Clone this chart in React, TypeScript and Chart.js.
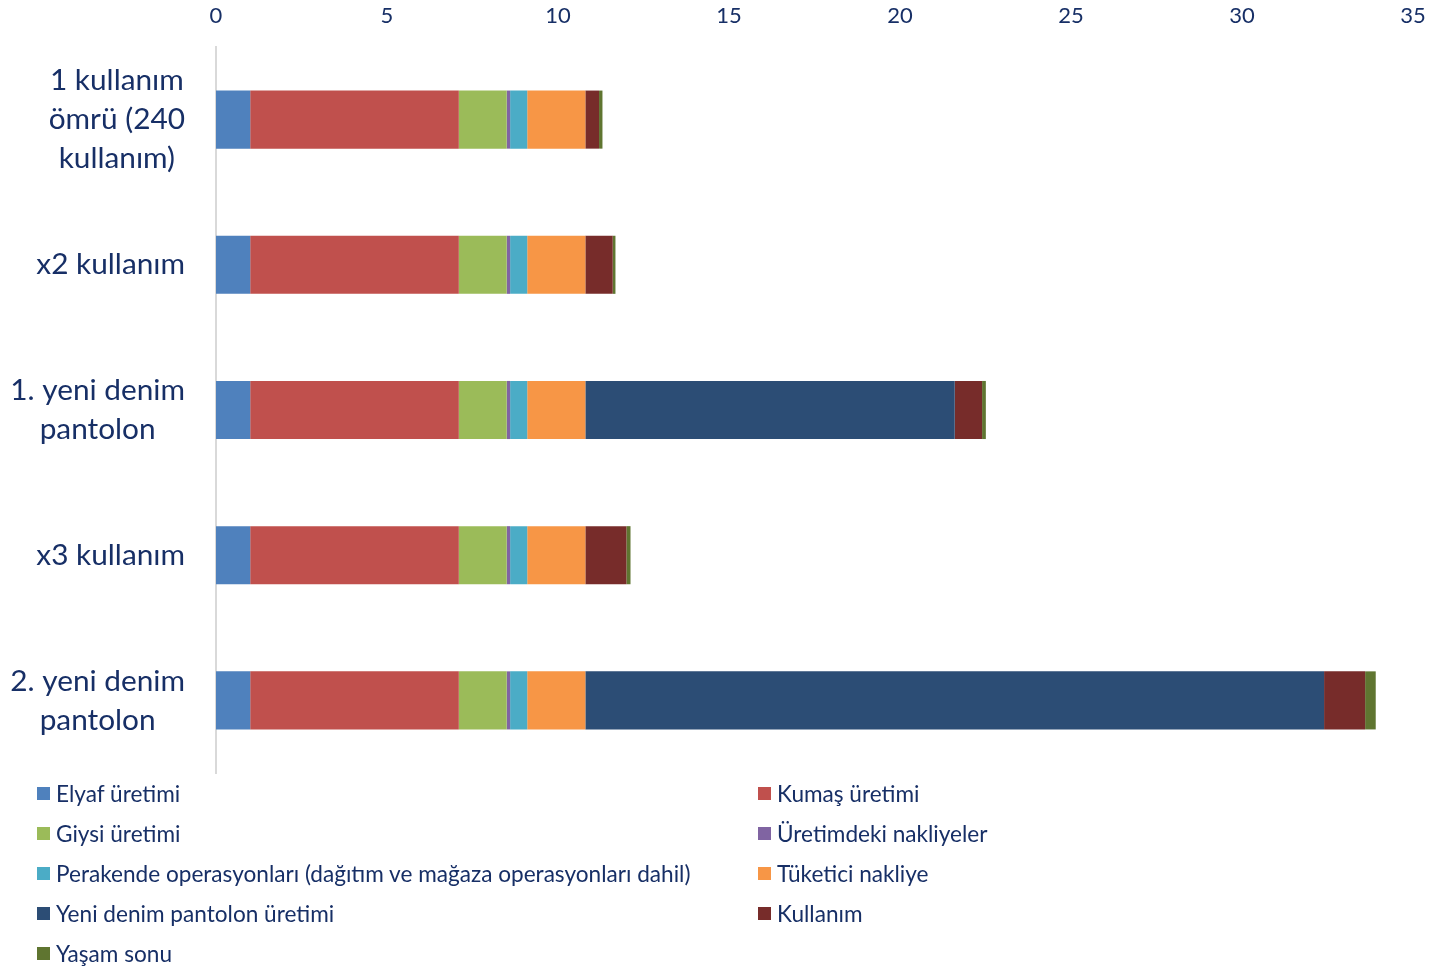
import { useEffect, useRef } from "react";
import { Chart, registerables } from "chart.js";

Chart.register(...registerables);

// Category labels (multi-line, centred inside their own block)
const categories = [
  ["1 kullanım", "ömrü (240", "kullanım)"],
  ["x2 kullanım"],
  ["1. yeni denim", "pantolon"],
  ["x3 kullanım"],
  ["2. yeni denim", "pantolon"],
];

// Series values, one per category
const elyaf = [1.0, 1.0, 1.0, 1.0, 1.0];
const kumas = [6.1, 6.1, 6.1, 6.1, 6.1];
const giysi = [1.4, 1.4, 1.4, 1.4, 1.4];
const uretimNakliye = [0.1, 0.1, 0.1, 0.1, 0.1];
const perakende = [0.5, 0.5, 0.5, 0.5, 0.5];
const tuketici = [1.7, 1.7, 1.7, 1.7, 1.7];
const yeniDenim = [0, 0, 10.8, 0, 21.6];
const kullanim = [0.4, 0.8, 0.8, 1.2, 1.2];
const yasamSonu = [0.1, 0.08, 0.11, 0.12, 0.31];

const seriesNames = [
  "Elyaf üretimi",
  "Kumaş üretimi",
  "Giysi üretimi",
  "Üretimdeki nakliyeler",
  "Perakende operasyonları (dağıtım ve mağaza operasyonları dahil)",
  "Tüketici nakliye",
  "Yeni denim pantolon üretimi",
  "Kullanım",
  "Yaşam sonu",
];
const seriesValues = [
  elyaf,
  kumas,
  giysi,
  uretimNakliye,
  perakende,
  tuketici,
  yeniDenim,
  kullanim,
  yasamSonu,
];
const seriesColors = [
  "#4F81BD",
  "#C0504D",
  "#9BBB59",
  "#8064A2",
  "#4BACC6",
  "#F79646",
  "#2C4D75",
  "#772C2A",
  "#5F7530",
];

// X axis range
const xMin = 0;
const xMax = 35;
const xStep = 5;

const TEXT = "#172F66";
const FONT = "Lato";
const LABEL_SIZE = 29.8;
const LABEL_LINE = 39;

const categoryLabelPlugin = {
  id: "categoryLabels",
  afterDraw(chart: any) {
    const { ctx } = chart;
    const y = chart.scales.y;
    ctx.save();
    ctx.font = `${LABEL_SIZE}px ${FONT}`;
    ctx.fillStyle = TEXT;
    ctx.textAlign = "center";
    ctx.textBaseline = "middle";
    (chart.data.labels as string[][]).forEach((lines, i) => {
      const cy = y.getPixelForValue(i);
      const w = Math.max(...lines.map((l) => ctx.measureText(l).width));
      const cx = y.right - 31 - w / 2;
      lines.forEach((line, j) => {
        ctx.fillText(line, cx, cy + (j - (lines.length - 1) / 2) * LABEL_LINE);
      });
    });
    ctx.restore();
  },
};

export default function App() {
  const chartRef = useRef<HTMLCanvasElement>(null);
  const chartInstance = useRef<Chart | null>(null);

  useEffect(() => {
    if (!chartRef.current) return;

    if (chartInstance.current) {
      chartInstance.current.destroy();
    }

    const ctx = chartRef.current.getContext("2d");
    if (ctx) {
      chartInstance.current = new Chart(ctx, {
        type: "bar",
        data: {
          labels: categories,
          datasets: seriesNames.map((name, i) => ({
            label: name,
            data: seriesValues[i],
            backgroundColor: seriesColors[i],
            borderWidth: 0,
            barPercentage: 0.4,
            categoryPercentage: 1,
          })),
        },
        options: {
          indexAxis: "y",
          animation: false,
          responsive: true,
          maintainAspectRatio: false,
          layout: {
            padding: { left: 0, right: 16, top: 0, bottom: 7 },
          },
          plugins: {
            legend: { display: false },
            tooltip: { enabled: true },
          },
          scales: {
            x: {
              position: "top",
              stacked: true,
              min: xMin,
              max: xMax,
              grid: { display: false },
              border: { display: false },
              ticks: {
                stepSize: xStep,
                color: TEXT,
                padding: 10,
                font: { family: FONT, size: 22 },
              },
              afterFit(scale: any) {
                scale.height = 47;
                scale.paddingLeft = 0;
                scale.paddingRight = 0;
              },
            },
            y: {
              stacked: true,
              grid: { display: false },
              border: { display: true, color: "#D9D9D9", width: 2 },
              ticks: { display: false },
              afterFit(scale: any) {
                scale.width = 216;
              },
            },
          },
        },
        plugins: [categoryLabelPlugin],
      });
    }

    return () => {
      if (chartInstance.current) {
        chartInstance.current.destroy();
        chartInstance.current = null;
      }
    };
  }, []);

  return (
    <div
      style={{
        position: "absolute",
        left: 0,
        top: 0,
        width: 1429,
        height: 969,
        background: "#fff",
        fontFamily: FONT,
      }}
    >
      <div style={{ position: "absolute", left: 0, top: 0, width: 1429, height: 780 }}>
        <canvas ref={chartRef} />
      </div>
      <div
        style={{
          position: "absolute",
          left: 37,
          top: 773,
          display: "grid",
          gridTemplateColumns: "721px 600px",
        }}
      >
        {seriesNames.map((name, i) => (
          <div
            key={name}
            style={{ display: "flex", alignItems: "center", height: 40 }}
          >
            <span
              style={{
                width: 13,
                height: 13,
                background: seriesColors[i],
                marginRight: 6,
                flex: "none",
              }}
            />
            <span style={{ color: TEXT, fontSize: 22.6, whiteSpace: "nowrap" }}>
              {name}
            </span>
          </div>
        ))}
      </div>
    </div>
  );
}
